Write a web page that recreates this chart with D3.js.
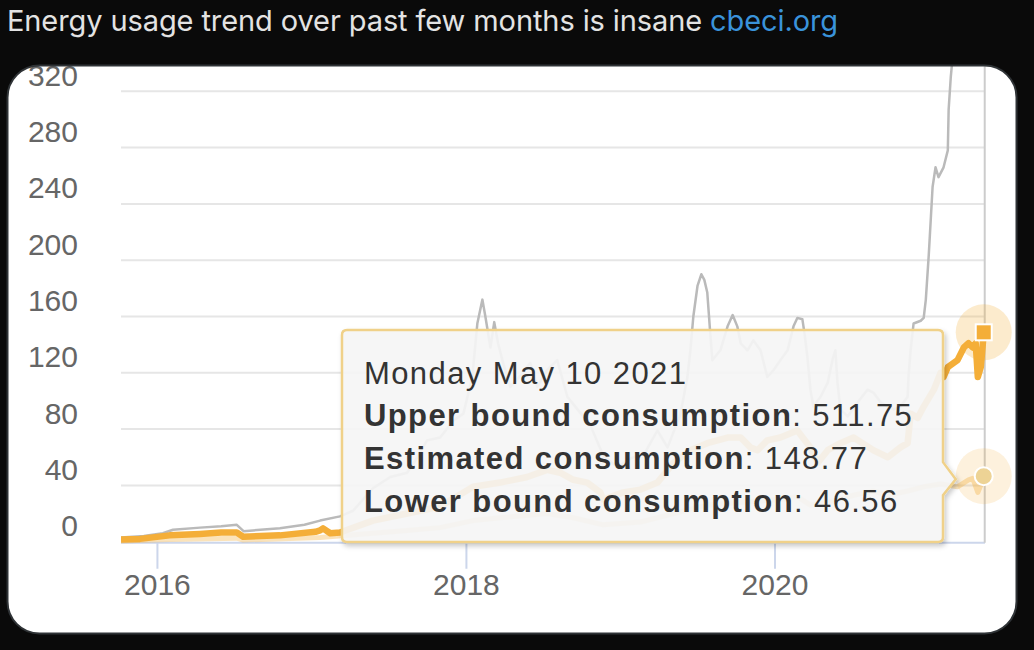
<!DOCTYPE html>
<html>
<head>
<meta charset="utf-8">
<script src="https://cdn.jsdelivr.net/npm/d3@7"></script>
<style>
  html, body { margin: 0; padding: 0; background: #0a0a0a; }
  svg { display: block; }
</style>
</head>
<body>
<svg id="chart" width="1034" height="650"></svg>
<script>
// ---------------- DATA ----------------
const titleText = "Energy usage trend over past few months is insane ";
const titleLink = "cbeci.org";
const yTicks = [0, 40, 80, 120, 160, 200, 240, 280, 320];
const xTickDates = ["2016-01-01", "2018-01-01", "2020-01-01"];
const xTickLabels = ["2016", "2018", "2020"];

const upperBound = [
["2015-10-08",3],["2015-12-01",4],["2016-01-15",6],["2016-02-08",8.5],["2016-04-12",10],["2016-06-01",11],
["2016-07-08",12],["2016-07-24",7.5],["2016-10-18",9.5],["2016-12-15",12],["2017-01-21",15],["2017-03-09",18],
["2017-04-09",22],["2017-05-26",38],["2017-07-06",46],["2017-08-15",49],["2017-09-08",60],["2017-10-01",72],
["2017-11-01",74],["2017-12-02",86],["2017-12-26",91],["2018-01-16",117],["2018-01-28",155],["2018-02-09",172],
["2018-02-16",160],["2018-02-28",138],["2018-03-09",156],["2018-03-18",141],["2018-03-30",127],["2018-04-16",110],
["2018-05-10",118],["2018-06-02",127],["2018-06-19",110],["2018-07-12",122],["2018-08-05",129],["2018-08-29",103],
["2018-09-22",94],["2018-10-22",83],["2018-11-22",61],["2018-12-25",53],["2019-01-25",59],["2019-03-02",64],
["2019-03-30",79],["2019-04-23",67],["2019-05-23",90],["2019-06-09",117],["2019-06-16",136],["2019-06-23",160],
["2019-07-03",182],["2019-07-12",190],["2019-07-19",186],["2019-07-26",177],["2019-08-02",148],["2019-08-07",129],
["2019-08-26",136],["2019-09-12",153],["2019-09-24",161],["2019-10-05",153],["2019-10-13",141],["2019-10-29",136],
["2019-11-12",143],["2019-11-29",136],["2019-12-15",117],["2019-12-30",122],["2020-01-15",129],["2020-02-01",136],
["2020-02-15",153],["2020-02-24",159],["2020-03-07",158],["2020-03-12",148],["2020-03-19",131],["2020-03-26",108],
["2020-04-02",96],["2020-04-19",103],["2020-05-06",113],["2020-05-17",129],["2020-05-24",136],["2020-05-29",113],
["2020-06-05",94],["2020-06-22",89],["2020-07-16",99],["2020-08-08",108],["2020-08-22",106],["2020-09-08",99],
["2020-09-25",96],["2020-10-09",94],["2020-10-25",96],["2020-11-11",103],["2020-11-13",117],["2020-11-18",136],
["2020-11-25",155],["2020-12-12",157],["2020-12-19",159],["2020-12-24",172],["2020-12-31",204],["2021-01-09",252],
["2021-01-16",266],["2021-01-23",259],["2021-02-04",266],["2021-02-14",278],["2021-02-16",307],["2021-02-21",330],
["2021-02-26",346],["2021-03-10",400],["2021-04-01",460],["2021-04-20",495],["2021-05-10",511.75]
];

const estimated = [
["2015-10-08",1.5],["2015-11-22",2],["2016-01-31",4.5],["2016-04-12",5.5],["2016-06-01",6.5],["2016-07-08",6.5],
["2016-07-23",3.5],["2016-10-18",4.5],["2017-01-10",7],["2017-01-21",8],["2017-01-28",9.5],["2017-02-14",6],
["2017-03-09",6.5],["2017-05-26",15],["2017-08-15",20],["2017-11-01",25],["2018-01-18",39],["2018-03-23",42],
["2018-05-26",46],["2018-07-12",51],["2018-08-12",49],["2018-09-12",44],["2018-10-15",42],["2018-11-15",35],
["2018-11-22",30],["2019-01-08",35],["2019-02-18",37],["2019-03-30",42],["2019-05-07",56],["2019-06-16",65],
["2019-07-26",70],["2019-09-12",74],["2019-10-13",74],["2019-11-05",67],["2019-11-22",65],["2019-12-15",72],
["2020-01-15",74],["2020-02-24",79],["2020-03-26",67],["2020-04-12",56],["2020-05-06",65],["2020-06-05",70],
["2020-07-06",74],["2020-08-22",65],["2020-09-25",60],["2020-10-25",67],["2020-11-11",70],["2020-11-18",91],
["2020-12-05",88],["2020-12-19",96],["2021-01-12",108],["2021-01-28",120],["2021-02-04",117],["2021-02-14",124],
["2021-03-09",129],["2021-03-24",138],["2021-04-04",141],["2021-04-14",138],["2021-04-21",141],["2021-04-26",117],
["2021-05-03",124],["2021-05-08",141],["2021-05-10",148.77]
];

const lowerBound = [
["2015-10-08",0.5],["2016-01-31",1.5],["2016-07-08",2.5],["2016-07-23",1.2],["2017-01-21",3],["2017-05-26",6],
["2017-08-15",8],["2017-11-01",10],["2018-01-18",15],["2018-03-23",17],["2018-07-12",20],["2018-09-12",17],
["2018-11-22",12],["2019-02-18",14],["2019-05-07",20],["2019-07-26",26],["2019-10-13",28],["2020-01-15",30],
["2020-02-24",32],["2020-03-26",26],["2020-05-06",28],["2020-07-06",33],["2020-08-22",36],["2020-09-25",33],
["2020-11-11",36],["2020-12-19",39],["2021-01-28",41],["2021-03-09",39],["2021-04-04",44],["2021-04-14",45],
["2021-04-26",35],["2021-05-03",40],["2021-05-10",46.56]
];

const tooltipDate = "Monday May 10 2021";
const tooltipRows = [
  ["Upper bound consumption", "511.75"],
  ["Estimated consumption", "148.77"],
  ["Lower bound consumption", "46.56"]
];

// ---------------- CHART ----------------
const parse = d3.utcParse("%Y-%m-%d");
const svg = d3.select("#chart");

const colUpper = "#bababa";
const colEst = "#f4ae38";
const colLow = "#f4ae38";

// Title
const title = svg.append("text")
  .attr("x", 7).attr("y", 31)
  .style("font-family", "Inter, 'Noto Sans', sans-serif")
  .style("font-size", "29px");
title.append("tspan").attr("fill", "#e3e3e3").text(titleText);
title.append("tspan").attr("fill", "#3a93da").text(titleLink);
{
  const w = title.node().getComputedTextLength();
  const n = (titleText + titleLink).length;
  title.style("letter-spacing", ((831 - w) / n) + "px");
}

// Card
const card = { x: 7.5, y: 65.5, w: 1009, h: 568, r: 32 };
const defs = svg.append("defs");
defs.append("clipPath").attr("id", "cardClip")
  .append("rect").attr("x", card.x).attr("y", card.y).attr("width", card.w).attr("height", card.h).attr("rx", card.r);
defs.append("clipPath").attr("id", "plotClip")
  .append("rect").attr("x", 121).attr("y", 0).attr("width", 866).attr("height", 545);
const f = defs.append("filter").attr("id", "shadow").attr("x", "-10%").attr("y", "-10%").attr("width", "120%").attr("height", "130%");
f.append("feDropShadow").attr("dx", 2).attr("dy", 3).attr("stdDeviation", 2.5).attr("flood-color", "#000").attr("flood-opacity", 0.22);

svg.append("rect").attr("x", card.x).attr("y", card.y).attr("width", card.w).attr("height", card.h)
  .attr("rx", card.r).attr("fill", "#ffffff");

const g = svg.append("g").attr("clip-path", "url(#cardClip)");

const x = d3.scaleUtc().domain([parse("2015-10-08"), parse("2021-05-13")]).range([121, 985]);
const y = d3.scaleLinear().domain([0, 320]).range([541.7, 91.3]);

// gridlines
g.append("g").selectAll("line").data(yTicks.slice(1)).join("line")
  .attr("x1", 121).attr("x2", 985)
  .attr("y1", d => y(d)).attr("y2", d => y(d))
  .attr("stroke", "#e6e6e6").attr("stroke-width", 2);

// y labels
g.append("g").selectAll("text").data(yTicks).join("text")
  .attr("x", 78).attr("y", d => y(d) - 5.5)
  .attr("text-anchor", "end")
  .attr("fill", "#666666")
  .style("font-family", "'Liberation Sans', Arial, sans-serif")
  .style("font-size", "30px")
  .text(d => d);

// x axis
const xAxis = d3.axisBottom(x)
  .tickValues(xTickDates.map(parse))
  .tickFormat((d, i) => xTickLabels[i])
  .tickSize(26).tickPadding(5);
const ax = g.append("g").attr("transform", `translate(0,${542.7})`).call(xAxis);
ax.select(".domain").remove();
ax.selectAll(".tick line").attr("stroke", "#ccd6eb").attr("stroke-width", 2);
ax.selectAll(".tick text").attr("fill", "#666666")
  .style("font-family", "'Liberation Sans', Arial, sans-serif").style("font-size", "30px");
g.append("line").attr("x1", 121).attr("x2", 985).attr("y1", 542.7).attr("y2", 542.7)
  .attr("stroke", "#ccd6eb").attr("stroke-width", 2);

// crosshair
const lastDate = parse("2021-05-10");
g.append("line").attr("x1", x(lastDate) + 1).attr("x2", x(lastDate) + 1)
  .attr("y1", 60).attr("y2", 542.7).attr("stroke", "#cccccc").attr("stroke-width", 2);

// lines
const line = d3.line().x(d => x(parse(d[0]))).y(d => y(d[1]));
const lg = g.append("g").attr("clip-path", "url(#plotClip)");
lg.append("path").datum(lowerBound).attr("d", line).attr("fill", "none")
  .attr("stroke", colLow).attr("stroke-opacity", 0.35).attr("stroke-width", 5).attr("stroke-linejoin", "round");
lg.append("path").datum(upperBound).attr("d", line).attr("fill", "none")
  .attr("stroke", colUpper).attr("stroke-width", 2.5).attr("stroke-linejoin", "round");
lg.append("path").datum(estimated).attr("d", line).attr("fill", "none")
  .attr("stroke", colEst).attr("stroke-width", 6.5).attr("stroke-linejoin", "round");

// halos & markers
const estLast = estimated[estimated.length - 1];
const lowLast = lowerBound[lowerBound.length - 1];
g.append("circle").attr("cx", x(parse(estLast[0]))).attr("cy", y(estLast[1])).attr("r", 28)
  .attr("fill", colEst).attr("fill-opacity", 0.25);
g.append("circle").attr("cx", x(parse(lowLast[0]))).attr("cy", y(lowLast[1])).attr("r", 28)
  .attr("fill", colLow).attr("fill-opacity", 0.17);
g.append("rect").attr("x", x(parse(estLast[0])) - 8).attr("y", y(estLast[1]) - 8)
  .attr("width", 16).attr("height", 16).attr("fill", colEst).attr("stroke", "#fff").attr("stroke-width", 2);
g.append("circle").attr("cx", x(parse(lowLast[0]))).attr("cy", y(lowLast[1])).attr("r", 9)
  .attr("fill", "#edd395").attr("stroke", "#fff").attr("stroke-width", 2);

// tooltip
const tt = { l: 342, t: 330, r: 943, b: 542, rr: 5 };
const ay = y(lowLast[1]);
const tipPath = `M${tt.l + tt.rr},${tt.t} H${tt.r - tt.rr} Q${tt.r},${tt.t} ${tt.r},${tt.t + tt.rr}
  V${ay - 14} L${x(parse(lowLast[0])) - 28},${ay + 3} L${tt.r},${ay + 19}
  V${tt.b - tt.rr} Q${tt.r},${tt.b} ${tt.r - tt.rr},${tt.b} H${tt.l + tt.rr} Q${tt.l},${tt.b} ${tt.l},${tt.b - tt.rr}
  V${tt.t + tt.rr} Q${tt.l},${tt.t} ${tt.l + tt.rr},${tt.t} Z`;
g.append("path").attr("d", tipPath).attr("fill", "rgba(247,247,247,0.9)")
  .attr("stroke", "#f0d189").attr("stroke-width", 2.5).attr("filter", "url(#shadow)");

const ttText = g.append("g")
  .style("font-family", "'Liberation Sans', Arial, sans-serif")
  .style("font-size", "31px").style("letter-spacing", "1.4px").attr("fill", "#333333");
ttText.append("text").attr("x", 364).attr("y", 384).text(tooltipDate);
tooltipRows.forEach((r, i) => {
  const t = ttText.append("text").attr("x", 364).attr("y", 426 + i * 43);
  t.append("tspan").style("font-weight", "bold").text(r[0]);
  t.append("tspan").text(": " + r[1]);
});

// card border
svg.append("rect").attr("x", card.x).attr("y", card.y).attr("width", card.w).attr("height", card.h)
  .attr("rx", card.r).attr("fill", "none").attr("stroke", "#2f3336").attr("stroke-width", 2);
</script>
</body>
</html>
